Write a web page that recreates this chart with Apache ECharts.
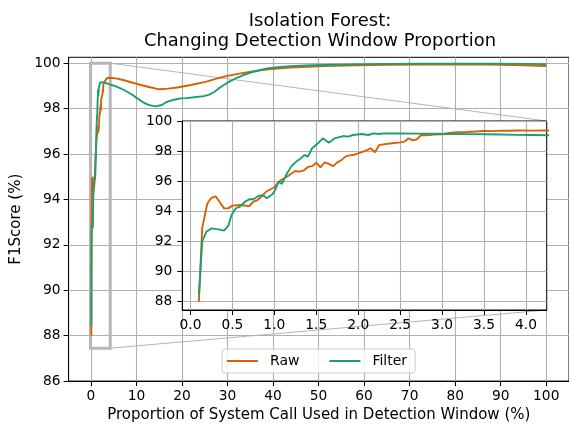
<!DOCTYPE html>
<html>
<head>
<meta charset="utf-8">
<script src="https://cdn.jsdelivr.net/npm/echarts@6/dist/echarts.min.js"></script>
<style>html,body{margin:0;padding:0;background:#fff}#c{width:569px;height:428px}</style>
</head>
<body>
<div id="c"></div>
<script>
// ---- data ----
const rawX = [0.1,0.14,0.2,0.25,0.3,0.35,0.4,0.45,0.5,0.6,0.7,0.75,0.8,0.85,0.9,0.95,1.0,1.05,1.1,1.15,1.2,1.25,1.3,1.35,1.4,1.45,1.5,1.55,1.6,1.65,1.7,1.75,1.8,1.85,1.9,1.95,2.0,2.05,2.1,2.15,2.2,2.25,2.3,2.4,2.5,2.55,2.6,2.65,2.7,2.75,2.8,2.85,2.9,3.0,3.1,3.2,3.3,3.4,3.5,3.6,3.7,3.8,3.9,4.05,
  4.4,5.5,7.3,9,11,13,15,17,19,21.9,25.2,27.8,30,32.9,35.8,39.5,43.9,51.2,58.5,65,73.1,80,87.7,95,100];
const rawY = [88.0,92.9,94.5,94.9,95.0,94.6,94.2,94.2,94.38,94.42,94.35,94.64,94.75,95.0,95.3,95.45,95.6,95.95,96.15,96.3,96.5,96.68,96.64,96.72,96.95,97.0,97.23,96.92,97.26,97.15,97.0,97.25,97.4,97.65,97.72,97.76,97.85,97.95,98.05,98.19,97.92,98.4,98.45,98.52,98.58,98.63,98.85,98.72,98.78,99.07,99.05,99.07,99.1,99.12,99.22,99.25,99.27,99.3,99.34,99.33,99.36,99.35,99.37,99.36,
  99.37,99.33,99.25,99.15,99.04,98.94,98.85,98.88,98.93,99.04,99.18,99.33,99.44,99.55,99.65,99.74,99.81,99.88,99.91,99.93,99.94,99.95,99.94,99.91,99.88];
const filterX = [0.1,0.14,0.19,0.25,0.33,0.4,0.45,0.49,0.54,0.59,0.65,0.7,0.75,0.81,0.86,0.91,0.98,1.01,1.05,1.09,1.14,1.2,1.26,1.31,1.36,1.4,1.45,1.52,1.58,1.65,1.72,1.82,1.88,1.94,2.04,2.12,2.18,2.25,2.3,2.5,2.7,2.9,3.1,3.3,3.5,3.7,3.9,4.05,
  4.4,5.5,7.3,9,10.2,11.3,12.4,13.3,14.3,15.7,16.5,17.5,18.5,19.7,21,22.7,24.8,26,27,28,29.2,30.5,32.2,33.5,35.1,37,38.7,41,43.9,47,51.2,58,65.8,72,80,88,95,100];
const filterY = [88.45,92.0,92.65,92.87,92.8,92.72,93.03,93.76,94.2,94.31,94.64,94.8,94.8,95.02,95.08,94.87,95.15,95.42,95.97,95.82,96.41,96.97,97.3,97.5,97.74,97.63,98.19,98.52,98.85,98.56,98.85,99.0,98.96,99.07,99.14,99.07,99.18,99.14,99.18,99.17,99.16,99.15,99.14,99.13,99.12,99.1,99.08,99.07,
  99.05,98.98,98.82,98.62,98.45,98.3,98.19,98.13,98.1,98.17,98.28,98.35,98.4,98.45,98.46,98.5,98.55,98.62,98.72,98.88,99.04,99.2,99.37,99.48,99.59,99.69,99.77,99.82,99.87,99.9,99.92,99.95,99.97,99.98,99.98,99.98,99.97,99.96];
const seriesNames = ['Raw', 'Filter'];
const mainXTicks = [0,10,20,30,40,50,60,70,80,90,100];
const mainYTicks = [86,88,90,92,94,96,98,100];
const insetXTicks = [0,0.5,1.0,1.5,2.0,2.5,3.0,3.5,4.0];
const insetYTicks = [88,90,92,94,96,98,100];
const mainXRange = [-4.895, 104.995];
const mainYRange = [86, 100.26];
const insetXRange = [-0.0975, 4.2475];
const insetYRange = [87.45, 100];
const titleText = 'Isolation Forest:\nChanging Detection Window Proportion';
const xName = 'Proportion of System Call Used in Detection Window (%)';
const yName = 'F1Score (%)';

const colors = ['#d95f02', '#1b9e77'];
const FONT = 'DejaVu Sans';
const rawData = rawX.map((x, i) => [x, rawY[i]]);
const filterData = filterX.map((x, i) => [x, filterY[i]]);

const gridLine = {show: true, lineStyle: {color: '#b0b0b0', width: 1.1}};
function axisCommon(ticks, fmt, margin, z) {
  return {
    type: 'value', z: z,
    axisLine: {show: true, onZero: false, lineStyle: {color: '#000', width: 1}},
    axisTick: {show: true, inside: false, length: 5, customValues: ticks, lineStyle: {color: '#000', width: 1}},
    axisLabel: {customValues: ticks, color: '#000', fontFamily: FONT, fontSize: 13.8, margin: margin, formatter: fmt},
    splitLine: gridLine
  };
}

const chart = echarts.init(document.getElementById('c'), null, {renderer: 'canvas'});
const option = {
  animation: false,
  color: colors,
  textStyle: {fontFamily: FONT},
  title: {
    text: titleText, left: 320, top: 11, padding: 0, textAlign: 'center',
    textStyle: {fontFamily: FONT, fontSize: 17.9, fontWeight: 'normal', color: '#000', lineHeight: 20}
  },
  legend: {
    data: seriesNames, left: 222, top: 349, orient: 'horizontal',
    icon: 'rect', itemWidth: 31, itemHeight: 2, itemGap: 30,
    padding: [5, 8, 5, 5], borderColor: '#cccccc', borderWidth: 1, borderRadius: 3,
    backgroundColor: 'rgba(255,255,255,0.8)', z: 10,
    textStyle: {fontFamily: FONT, fontSize: 14, color: '#000', padding: [0, 0, 0, 7]}
  },
  grid: [
    {left: 68.6, top: 57.3, width: 502.3, height: 326.2, show: true, borderColor: '#000', borderWidth: 1, backgroundColor: 'transparent', z: 0},
    {left: 182.3, top: 121, width: 364.4, height: 189, show: true, borderColor: '#000', borderWidth: 1, backgroundColor: '#fff', z: 3}
  ],
  xAxis: [
    Object.assign(axisCommon(mainXTicks, v => String(v), 8, 0), {gridIndex: 0, min: mainXRange[0], max: mainXRange[1],
      name: xName, nameLocation: 'middle', nameGap: 23, nameTextStyle: {fontFamily: FONT, fontSize: 15, color: '#000'}}),
    Object.assign(axisCommon(insetXTicks, v => v.toFixed(1), 8, 4), {gridIndex: 1, min: insetXRange[0], max: insetXRange[1]})
  ],
  yAxis: [
    Object.assign(axisCommon(mainYTicks, v => String(v), 8, 0), {gridIndex: 0, min: mainYRange[0], max: mainYRange[1],
      name: yName, nameLocation: 'middle', nameGap: 42, nameTextStyle: {fontFamily: FONT, fontSize: 15, color: '#000'}}),
    Object.assign(axisCommon(insetYTicks, v => String(v), 10, 4), {gridIndex: 1, min: insetYRange[0], max: insetYRange[1]})
  ],
  series: [
    {name: seriesNames[0], type: 'line', xAxisIndex: 0, yAxisIndex: 0, data: rawData, showSymbol: false, symbol: 'none', lineStyle: {width: 1.9, color: colors[0]}, z: 2},
    {name: seriesNames[1], type: 'line', xAxisIndex: 0, yAxisIndex: 0, data: filterData, showSymbol: false, symbol: 'none', lineStyle: {width: 1.9, color: colors[1]}, z: 2},
    {name: seriesNames[0], type: 'line', xAxisIndex: 1, yAxisIndex: 1, data: rawData, showSymbol: false, symbol: 'none', lineStyle: {width: 1.9, color: colors[0]}, z: 5},
    {name: seriesNames[1], type: 'line', xAxisIndex: 1, yAxisIndex: 1, data: filterData, showSymbol: false, symbol: 'none', lineStyle: {width: 1.9, color: colors[1]}, z: 5}
  ]
};
chart.setOption(option);

// inset marker rectangle and connector lines, positioned through the axes' scales
const m = {xAxisIndex: 0, yAxisIndex: 0};
const n = {xAxisIndex: 1, yAxisIndex: 1};
const rTL = chart.convertToPixel(m, [insetXRange[0], insetYRange[1]]);
const rBR = chart.convertToPixel(m, [insetXRange[1], insetYRange[0]]);
const iTR = chart.convertToPixel(n, [insetXRange[1], insetYRange[1]]);
const iBR = chart.convertToPixel(n, [insetXRange[1], insetYRange[0]]);
chart.setOption({
  graphic: [
    {type: 'rect', z: 1, silent: true, shape: {x: rTL[0], y: rTL[1], width: rBR[0] - rTL[0], height: rBR[1] - rTL[1]},
      style: {fill: 'none', stroke: '#b8b8b8', lineWidth: 3}},
    {type: 'line', z: 1, silent: true, shape: {x1: rBR[0], y1: rTL[1], x2: iTR[0], y2: iTR[1]}, style: {stroke: '#b4b4b4', lineWidth: 1}},
    {type: 'line', z: 1, silent: true, shape: {x1: rBR[0], y1: rBR[1], x2: iBR[0], y2: iBR[1]}, style: {stroke: '#b4b4b4', lineWidth: 1}}
  ]
});
</script>
</body>
</html>
